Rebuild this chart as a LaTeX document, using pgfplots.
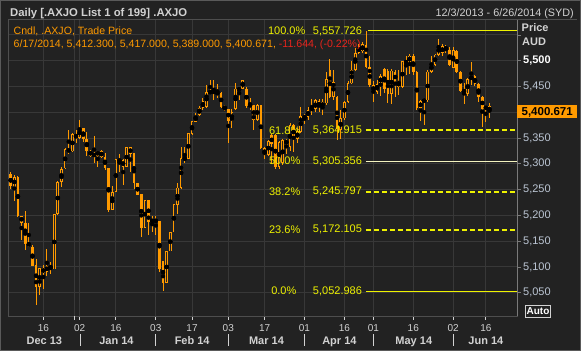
\documentclass[border=0pt]{standalone}
\usepackage{pgfplots}
\pgfplotsset{compat=1.18}
\usepackage{pgfplotstable}
\usepackage{fontspec}
\setmainfont{Liberation Sans}
\definecolor{bg}{HTML}{222222}
\definecolor{gridc}{HTML}{383838}
\definecolor{framec}{HTML}{4E4E4E}
\definecolor{axisc}{HTML}{7A7A7A}
\definecolor{candle}{HTML}{FF9A00}
\definecolor{fibc}{HTML}{EEF200}
\definecolor{fibw}{HTML}{F4F4C0}
\definecolor{txt}{HTML}{D2D2D2}
\definecolor{ticktxt}{HTML}{BCC6D4}
\definecolor{lossred}{HTML}{E8241C}
\definecolor{outer}{HTML}{5A5A5A}
\newcommand{\fs}[1]{\fontsize{#1bp}{#1bp}\selectfont}

\pgfplotstableread{
i o h l c
0 5280 5285 5251 5256
1 5256 5278 5227 5274
2 5275 5277 5197 5198
3 5199 5199 5152 5186
4 5186 5208 5133 5144
5 5143 5185 5139 5145
6 5139 5142 5102 5102
7 5104 5115 5026 5062
8 5062 5097 5046 5097
9 5097 5104 5057 5089
10 5091 5134 5082 5102
11 5104 5110 5086 5095
12 5095 5202 5095 5202
13 5202 5267 5201 5265
14 5265 5293 5256 5290
15 5291 5330 5290 5328
16 5328 5366 5320 5324
17 5324 5359 5323 5357
18 5357 5366 5340 5351
19 5351 5385 5349 5369
20 5369 5370 5343 5348
21 5349 5362 5315 5324
22 5325 5327 5314 5316
23 5316 5354 5301 5318
24 5316 5325 5294 5325
25 5325 5327 5311 5313
26 5314 5320 5288 5291
27 5291 5291 5206 5210
28 5210 5256 5210 5246
29 5246 5309 5245 5309
30 5309 5320 5285 5304
31 5307 5309 5259 5294
32 5294 5332 5294 5332
33 5332 5332 5285 5319
34 5320 5320 5251 5262
35 5262 5262 5239 5240
36 5241 5241 5159 5175
37 5175 5230 5175 5230
38 5230 5230 5161 5188
39 5191 5198 5168 5188
40 5188 5199 5162 5191
41 5189 5189 5091 5096
42 5111 5111 5053 5069
43 5069 5131 5069 5131
44 5130 5168 5130 5168
45 5167 5222 5167 5222
46 5221 5262 5203 5254
47 5254 5333 5252 5311
48 5309 5333 5301 5311
49 5309 5359 5309 5359
50 5358 5383 5355 5383
51 5382 5398 5382 5393
52 5395 5413 5393 5408
53 5408 5427 5404 5421
54 5411 5453 5408 5440
55 5441 5463 5435 5437
56 5438 5463 5424 5441
57 5440 5454 5427 5434
58 5437 5440 5408 5411
59 5413 5414 5402 5404
60 5406 5407 5340 5383
61 5383 5406 5369 5400
62 5406 5456 5404 5446
63 5443 5450 5424 5446
64 5446 5463 5445 5462
65 5446 5450 5409 5412
66 5414 5427 5404 5413
67 5414 5415 5366 5385
68 5385 5416 5383 5414
69 5414 5415 5328 5330
70 5330 5332 5310 5317
71 5317 5346 5315 5344
72 5355 5357 5300 5338
73 5356 5358 5290 5294
74 5294 5345 5290 5343
75 5301 5348 5298 5346
76 5347 5348 5320 5337
77 5333 5380 5325 5375
78 5375 5378 5323 5348
79 5349 5370 5340 5363
80 5362 5410 5360 5393
81 5395 5397 5378 5386
82 5391 5410 5385 5404
83 5403 5425 5395 5410
84 5406 5426 5400 5423
85 5421 5426 5400 5410
86 5420 5425 5394 5410
87 5417 5478 5414 5465
88 5481 5504 5427 5430
89 5430 5482 5424 5459
90 5430 5432 5346 5368
91 5365 5405 5349 5388
92 5388 5422 5386 5420
93 5420 5460 5418 5456
94 5456 5500 5454 5482
95 5482 5525 5480 5515
96 5515 5532 5512 5528
97 5518 5536 5515 5532
98 5530 5557.726 5485 5488
99 5487 5510 5450 5452
100 5452 5460 5420 5440
101 5440 5462 5436 5455
102 5455 5475 5432 5470
103 5484 5486 5438 5446
104 5481 5484 5418 5436
105 5436 5484 5417 5481
106 5478 5481 5430 5459
107 5460 5481 5433 5449
108 5449 5500 5447 5499
109 5499 5510 5472 5496
110 5496 5512 5475 5510
111 5510 5512 5472 5479
112 5479 5480 5405 5408
113 5408 5423 5384 5421
114 5420 5425 5375 5425
115 5423 5482 5420 5479
116 5479 5510 5476 5494
117 5492 5514 5490 5512
118 5512 5543 5510 5528
119 5515 5532 5510 5528
120 5528 5530 5515 5520
121 5520 5527 5490 5492
122 5486 5527 5485 5520
123 5518 5520 5477 5479
124 5479 5480 5440 5442
125 5446 5456 5417 5436
126 5436 5466 5432 5464
127 5464 5498 5452 5470
128 5470 5472 5450 5454
129 5454 5456 5420 5430
130 5430 5431 5371 5406
131 5405 5413 5381 5412.315
132 5412.3 5417 5389 5400.671
}\ohlc

\begin{document}
\begin{tikzpicture}
\fill[bg] (0,0) rectangle (581bp,351bp);
\useasboundingbox (0,0) rectangle (581bp,351bp);
\draw[outer, line width=1bp] (0.5bp,0.5bp) rectangle (580.5bp,350.5bp);
\draw[framec, line width=1bp] (8.5bp,331bp) -- (577bp,331bp);
\begin{axis}[
  at={(8.5bp,35bp)}, anchor=south west,
  scale only axis, width=508.5bp, height=296bp,
  xmin=-0.6, xmax=139.6, ymin=5004.8, ymax=5578.9,
  axis background/.style={fill=bg},
  axis line style={draw=framec, line width=1bp},
  clip=false,
  xtick={9,19,29,40,50,60,70,81,92,100,111,122,131},
  xticklabels={16,02,16,03,17,03,17,01,16,01,16,02,16},
  extra x ticks={17.6},
  extra x tick labels={},
  extra x tick style={grid=major, major grid style={gridc, line width=1bp}, tick style={draw=none}},
  ytick={5050,5100,...,5500},
  yticklabels={{5,050},{5,100},{5,150},{5,200},{5,250},{5,300},{5,350},{},{5,450},{\bfseries\color{white}5,500}},
  extra y ticks={5550},
  extra y tick labels={},
  extra y tick style={grid=major, major grid style={gridc, line width=1bp}},
  grid=major,
  major grid style={gridc, line width=1bp},
  xtick pos=bottom, ytick pos=right,
  yticklabel pos=right,
  xtick style={draw=txt, line width=0.8bp},
  ytick style={draw=axisc, line width=0.8bp},
  tick align=outside,
  major tick length=3.5bp,
  xticklabel style={font=\fs{10}, color=txt, anchor=base, yshift=-11.5bp},
  yticklabel style={font=\fs{11}, color=ticktxt, anchor=west, inner sep=0pt, xshift=2.5bp},
]
% wicks
\addplot[only marks, mark=none, forget plot, error bars/.cd, y dir=both, y explicit, error mark=none,
  error bar style={draw=candle, line width=0.9bp}]
  table[x=i, y expr={(\thisrow{h}+\thisrow{l})/2}, y error expr={(\thisrow{h}-\thisrow{l})/2}] {\ohlc};
% bodies
\addplot[only marks, mark=none, forget plot, error bars/.cd, y dir=both, y explicit, error mark=none,
  error bar style={draw=candle, line width=2.7bp}]
  table[x=i, y expr={(\thisrow{o}+\thisrow{c})/2}, y error expr={max(abs(\thisrow{o}-\thisrow{c})/2,0.6)}] {\ohlc};
% hollow interiors of rising candles
\addplot[only marks, mark=none, forget plot, error bars/.cd, y dir=both, y explicit, error mark=none,
  error bar style={draw=bg, line width=0.75bp}]
  table[x=i, y expr={(\thisrow{o}+\thisrow{c})/2}, y error expr={(\thisrow{c}>\thisrow{o}) ? max((\thisrow{c}-\thisrow{o})/2-1.7,0) : 0}] {\ohlc};
% Fibonacci levels
\addplot[fibc, line width=1bp] coordinates {(98.5,5557.726) (139.6,5557.726)};
\addplot[fibc, line width=1.7bp, dash pattern=on 5bp off 3bp] coordinates {(97.9,5364.915) (139.6,5364.915)};
\addplot[fibw, line width=0.8bp] coordinates {(97.9,5305.356) (139.6,5305.356)};
\addplot[fibc, line width=1.7bp, dash pattern=on 5bp off 3bp] coordinates {(97.9,5245.797) (139.6,5245.797)};
\addplot[fibc, line width=1.7bp, dash pattern=on 5bp off 3bp] coordinates {(97.9,5172.105) (139.6,5172.105)};
\addplot[fibc, line width=1bp] coordinates {(98.0,5052.986) (139.6,5052.986)};
\begin{scope}[every node/.style={font=\fs{11}, text=fibc, inner sep=0pt}]
\node[anchor=west] at (axis cs:70.9,5557.726) {100.0\%};
\node[anchor=east] at (axis cs:96.9,5557.726) {5,557.726};
\node[anchor=west] at (axis cs:71.2,5364.915) {61.8\%};
\node[anchor=east] at (axis cs:96.9,5364.915) {5,364.915};
\node[anchor=west] at (axis cs:71.2,5305.356) {50.0\%};
\node[anchor=east] at (axis cs:96.9,5305.356) {5,305.356};
\node[anchor=west] at (axis cs:71.2,5245.797) {38.2\%};
\node[anchor=east] at (axis cs:96.9,5245.797) {5,245.797};
\node[anchor=west] at (axis cs:71.2,5172.105) {23.6\%};
\node[anchor=east] at (axis cs:96.9,5172.105) {5,172.105};
\node[anchor=west] at (axis cs:71.8,5052.986) {0.0\%};
\node[anchor=east] at (axis cs:96.9,5052.986) {5,052.986};
\end{scope}
\draw[axisc, line width=1bp] (rel axis cs:1,0) -- (rel axis cs:1,1);
\node[anchor=west, fill=candle, text=black, font=\bfseries\fs{11.5}, minimum height=13bp, minimum width=60bp, inner sep=1bp, text depth=0pt] at (axis cs:139.6,5400.671) {5,400.671};
\end{axis}
% header texts
\node[anchor=base west, inner sep=0pt, text=txt, font=\bfseries\fs{11.3}] at (10bp,334.3bp) {Daily [.AXJO List 1 of 199] .AXJO};
\node[anchor=base east, inner sep=0pt, text=txt, font=\fs{10.8}] at (574bp,334.5bp) {12/3/2013 - 6/26/2014 (SYD)};
\node[anchor=base west, inner sep=0pt, text=txt, font=\bfseries\fs{11}] at (521.5bp,319.5bp) {Price};
\node[anchor=base west, inner sep=0pt, text=txt, font=\bfseries\fs{11}] at (522bp,305bp) {AUD};
\node[anchor=base west, inner sep=0pt, text=candle, font=\fs{10.6}] at (13.5bp,316.5bp) {Cndl, .AXJO, Trade Price};
\node[anchor=base west, inner sep=0pt, text=candle, font=\fs{10.6}] at (13.5bp,303.5bp) {6/17/2014, 5,412.300, 5,417.000, 5,389.000, 5,400.671, \textcolor{lossred}{-11.644, (-0.22\%)}};
% Auto box
\node[draw=txt, line width=0.8bp, text=white, font=\bfseries\fs{10}, inner sep=1.2bp, minimum height=12bp] at (538bp,40bp) {Auto};
% month labels and separators
\begin{scope}[every node/.style={anchor=base, inner sep=0pt, text=txt, font=\bfseries\fs{11}}]
\node at (44.3bp,7bp) {Dec 13};
\node at (116.4bp,7bp) {Jan 14};
\node at (192.2bp,7bp) {Feb 14};
\node at (266.5bp,7bp) {Mar 14};
\node at (339.4bp,7bp) {Apr 14};
\node at (413.8bp,7bp) {May 14};
\node at (485.9bp,7bp) {Jun 14};
\end{scope}
\foreach \sx in {80,155.9,228.5,304.7,373.7,453.6}
  \draw[txt, line width=0.9bp] (\sx bp,5bp) -- (\sx bp,17bp);
\end{tikzpicture}
\end{document}
